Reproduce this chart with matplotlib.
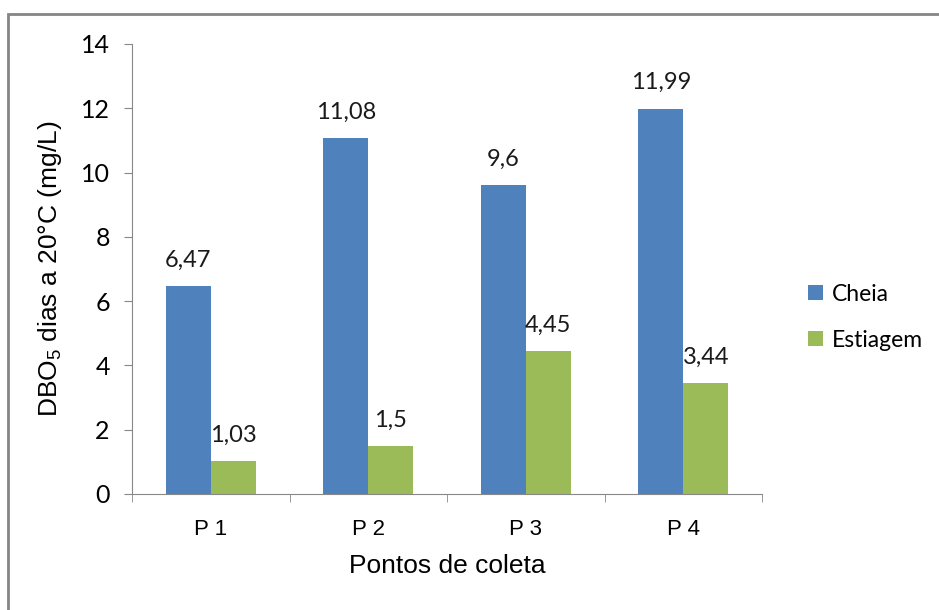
import matplotlib.pyplot as plt
import matplotlib.patches as patches
import numpy as np

plt.rcParams['mathtext.fontset'] = 'custom'
plt.rcParams['mathtext.rm'] = 'Liberation Sans'
plt.rcParams['mathtext.it'] = 'Liberation Sans:italic'

pontos = ['P 1', 'P 2', 'P 3', 'P 4']
cheia = [6.47, 11.08, 9.6, 11.99]
estiagem = [1.03, 1.5, 4.45, 3.44]
cheia_txt = ['6,47', '11,08', '9,6', '11,99']
estiagem_txt = ['1,03', '1,5', '4,45', '3,44']

fig = plt.figure(figsize=(9.39, 6.10), dpi=100)
ax = fig.add_axes([0.1406, 0.1902, 0.6709, 0.7377])

x = np.arange(len(pontos))
w = 0.286
b1 = ax.bar(x - w / 2, cheia, w, color='#4F81BD', label='Cheia')
b2 = ax.bar(x + w / 2, estiagem, w, color='#9BBB59', label='Estiagem')

for bars, labs in [(b1, cheia_txt), (b2, estiagem_txt)]:
    for r, t in zip(bars, labs):
        ax.annotate(t, (r.get_x() + r.get_width() / 2, r.get_height()),
                    xytext=(0, 11), textcoords='offset points',
                    ha='center', va='bottom', fontsize=17, family='Lato',
                    color='#1a1a1a')

ax.set_xlim(-0.5, 3.5)
ax.set_ylim(0, 14)
ax.set_yticks(range(0, 15, 2))
ax.set_yticklabels([str(v) for v in range(0, 15, 2)], family='Lato', fontsize=18)
ax.set_xticks(x)
ax.set_xticklabels(pontos, family='Liberation Sans', fontsize=16)
ax.set_xticks(np.arange(-0.5, 4, 1), minor=True)
ax.tick_params(axis='x', which='major', length=0, pad=18)
ax.tick_params(axis='x', which='minor', length=6, color='#888888')
ax.tick_params(axis='y', length=6, color='#888888', pad=10)

for s in ['top', 'right']:
    ax.spines[s].set_visible(False)
ax.spines['left'].set_color('#888888')
ax.spines['bottom'].set_color('#888888')

ax.set_ylabel(r'DBO$_{5}$ dias a 20°C (mg/L)', family='Liberation Sans',
              fontsize=19, labelpad=12)
ax.set_xlabel('Pontos de coleta', family='Liberation Sans', fontsize=19,
              labelpad=10)

leg = ax.legend(loc='center left', bbox_to_anchor=(1.04, 0.393), frameon=False,
                prop={'family': 'Lato', 'size': 16.5}, handlelength=0.65,
                handleheight=0.65, handletextpad=0.4, labelspacing=1.1)

border = patches.Rectangle((8 / 939, -0.1), 1.2, 1.1 - 14 / 610,
                           transform=fig.transFigure, fill=False,
                           edgecolor='#858585', linewidth=2, clip_on=False)
fig.patches.append(border)

fig.savefig('out.png', dpi=100)
